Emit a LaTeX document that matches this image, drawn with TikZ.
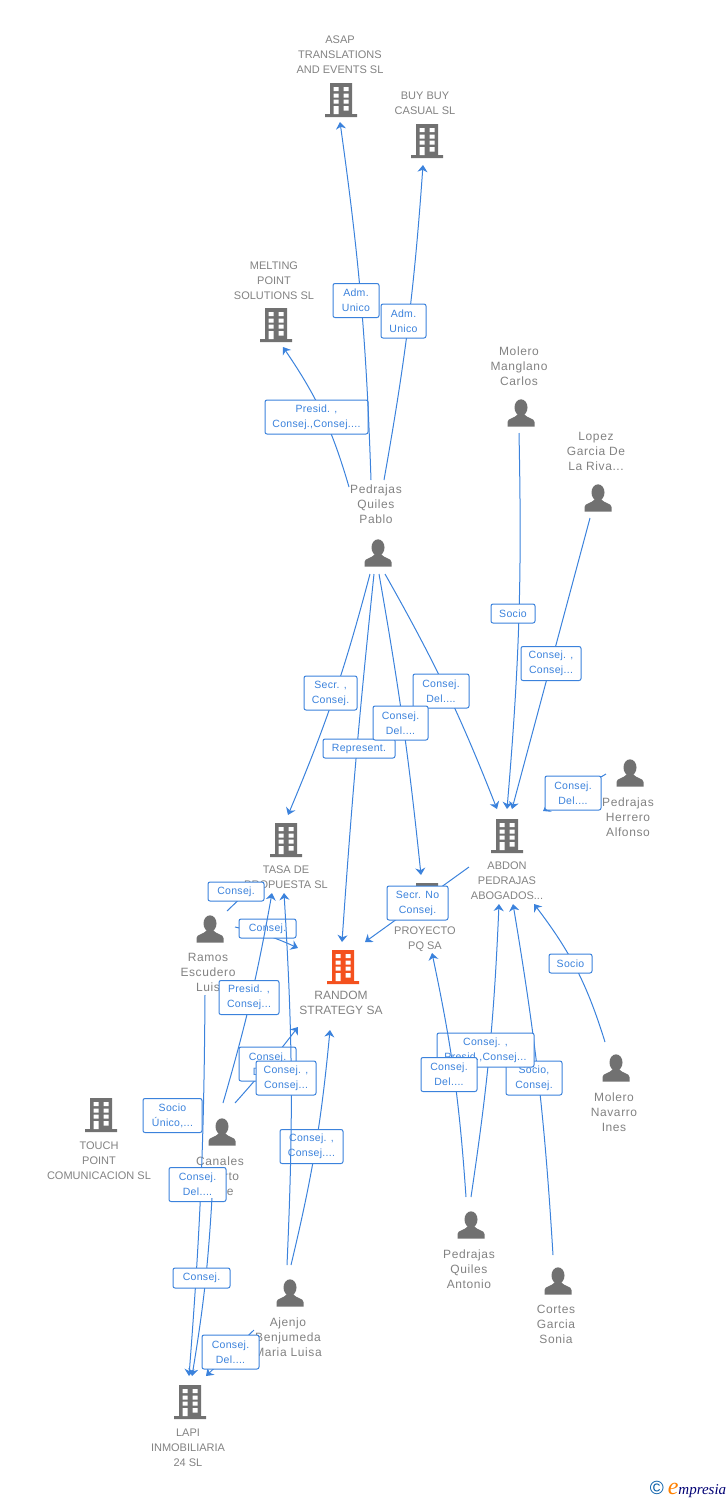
\documentclass[tikz,border=0pt]{standalone}
\usepackage{fontspec}
\setmainfont{Liberation Sans}
\newfontfamily\logofont{Liberation Serif}
\usetikzlibrary{arrows.meta}
\definecolor{linkblue}{HTML}{3B82DC}
\definecolor{iconcol}{HTML}{717171}
\definecolor{textcol}{HTML}{828282}
\definecolor{redfirm}{HTML}{F4511E}

\begin{document}
\begin{tikzpicture}[x=1pt,y=-1pt,
firm/.style={minimum width=34pt,minimum height=34pt,inner sep=0pt,path picture={
  \begin{scope}[shift={(path picture bounding box.center)}]
  \fill[#1] (-11,-17) rectangle (11,14) (-16,14) rectangle (16,17);
  \foreach \yy in {-13,-6.5,-0.5} {
    \fill[white] (-7.5,\yy) rectangle +(5,4.2) (2.5,\yy) rectangle +(5,4.2);
  }
  \fill[white] (-7.5,6) rectangle (-2.5,14) (2.5,6) rectangle (7.5,10.5);
  \end{scope}}},
firm/.default=iconcol,
person/.style={minimum width=28pt,minimum height=28pt,inner sep=0pt,path picture={
  \begin{scope}[shift={(path picture bounding box.center)}]
  \fill[iconcol] (0,-5.5) ellipse (6.5 and 8.2);
  \fill[iconcol] (-13.5,13.5) -- (-13.5,9) .. controls (-13.5,5) and (-6,5.5) .. (-3,1)
    -- (3,1) .. controls (6,5.5) and (13.5,5) .. (13.5,9) -- (13.5,13.5) -- cycle;
  \end{scope}}},
every label/.style={align=center,text=textcol,inner sep=0pt,xshift=-2pt,
  font=\fontsize{11}{15}\selectfont},
who/.style={label distance=10pt,font=\addfontfeature{LetterSpace=5}\fontsize{12}{15}\selectfont},
whotop/.style={who,label distance=13pt},
link/.style={draw=linkblue,line width=1pt,-{Stealth[length=7pt,width=10pt,inset=2.2pt]}},
tag/.style={draw=linkblue,line width=1pt,fill=white,rounded corners=2pt,align=center,inner sep=0pt,
  text=linkblue,font=\addfontfeature{LetterSpace=3}\fontsize{10.5}{15}\selectfont,minimum height=34pt}]
\useasboundingbox (0,0) rectangle (728,1500);

% companies
\node[firm] (asap) at (341,100) [label={[label distance=9pt,xshift=1pt]above:ASAP\\TRANSLATIONS\\AND EVENTS SL}] {};
\node[firm] (buybuy) at (427,141) [label={[label distance=9pt]above:BUY BUY\\CASUAL SL}] {};
\node[firm] (melting) at (276,325) [label={[label distance=8pt]above:MELTING\\POINT\\SOLUTIONS  SL}] {};
\node[firm] (abdon) at (507,836) [label={[label distance=8pt,xshift=2pt]below:ABDON\\PEDRAJAS\\ABOGADOS...}] {};
\node[firm] (tasa) at (286,840) [label={[label distance=8pt,xshift=2pt]below:TASA DE\\PROPUESTA SL}] {};
\node[firm] (proyecto) at (427,900) [label={[label distance=9pt]below:PROYECTO\\PQ SA}] {};
\node[firm=redfirm] (random) at (343,967) [label={[label distance=7pt,font=\fontsize{12}{15}\selectfont]below:RANDOM\\STRATEGY SA}] {};
\node[firm] (touch) at (101,1115) [label={[label distance=9pt]below:TOUCH\\POINT\\COMUNICACION SL}] {};
\node[firm] (lapi) at (190,1402) [label={[label distance=10pt]below:LAPI\\INMOBILIARIA\\24 SL}] {};

% people
\node[person] (pablo) at (378,553) [label={[whotop,label distance=15pt]above:Pedrajas\\Quiles\\Pablo}] {};
\node[person] (carlos) at (521,413) [label={[whotop]above:Molero\\Manglano\\Carlos}] {};
\node[person] (lopez) at (598,498) [label={[whotop]above:Lopez\\Garcia De\\La Riva...}] {};
\node[person] (alfonso) at (630,773) [label={[who]below:Pedrajas\\Herrero\\Alfonso}] {};
\node[person] (ramos) at (210,929) [label={[who]below:Ramos\\Escudero\\Luis}] {};
\node[person] (canales) at (222,1132) [label={[who]below:Canales\\Puerto\\Jose}] {};
\node[person] (ines) at (616,1068) [label={[who]below:Molero\\Navarro\\Ines}] {};
\node[person] (antonio) at (471,1225) [label={[who]below:Pedrajas\\Quiles\\Antonio}] {};
\node[person] (sonia) at (558,1281) [label={[who]below:Cortes\\Garcia\\Sonia}] {};
\node[person] (ajenjo) at (290,1293) [label={[who]below:Ajenjo\\Benjumeda\\Maria Luisa}] {};

% around Pablo
\draw[link] ([shift={(-29,-66)}]pablo.center) to[bend right=9] ([shift={(7,22)}]melting.center);
\node[tag,minimum width=103pt] (t1) at (316.5,417) {Presid. ,\\Consej.,Consej....};
\draw[link] ([shift={(-7,-73)}]pablo.center) to[bend right=3] ([shift={(-1,22)}]asap.center);
\node[tag,minimum width=46pt] (t2) at (356,300.5) {Adm.\\Unico};
\draw[link] ([shift={(6,-73)}]pablo.center) to[bend right=3] ([shift={(-4,24)}]buybuy.center);
\node[tag,minimum width=45pt] (t3) at (403.5,321) {Adm.\\Unico};
\draw[link] ([shift={(-8,21)}]pablo.center) to[bend left=4] ([shift={(2,-25)}]tasa.center);
\node[tag,minimum width=53pt] (t4) at (330.5,693) {Secr. ,\\Consej.};
\draw[link] ([shift={(-4,21)}]pablo.center) to[bend right=1] ([shift={(-1,-25)}]random.center);
\node[tag,minimum width=72pt,minimum height=19pt] (t5) at (359,748.5) {Represent.};
\draw[link] ([shift={(7,21)}]pablo.center) to[bend left=4] ([shift={(-10,-27)}]abdon.center);
\node[tag,minimum width=56pt] (t6) at (441,691) {Consej.\\Del....};
\draw[link] ([shift={(1,21)}]pablo.center) to[bend left=2] ([shift={(-6,-25)}]proyecto.center);
\node[tag,minimum width=55pt] (t7) at (400.5,723) {Consej.\\Del....};

% into Abdon
\draw[link] ([shift={(-2,20)}]carlos.center) to[bend left=3] ([shift={(0,-27)}]abdon.center);
\node[tag,minimum width=44pt,minimum height=19pt] (t8) at (513,613.5) {Socio};
\draw[link] ([shift={(-8,20)}]lopez.center) -- ([shift={(5,-27)}]abdon.center);
\node[tag,minimum width=60pt] (t9) at (551,663.5) {Consej. ,\\Consej...};
\draw[link] ([shift={(-24,1)}]alfonso.center) -- ([shift={(36,-25)}]abdon.center);
\node[tag,minimum width=56pt] (t10) at (573,793) {Consej.\\Del....};
\draw[link] ([shift={(-11,-26)}]ines.center) to[bend right=10] ([shift={(27,68)}]abdon.center);
\node[tag,minimum width=43pt,minimum height=19pt] (t11) at (570.5,963.5) {Socio};
\draw[link] ([shift={(-5,-26)}]sonia.center) to[bend right=3] ([shift={(6,68)}]abdon.center);
\node[tag,minimum width=56pt] (t12) at (534,1078) {Socio,\\Consej.};
\draw[link] ([shift={(0,-28)}]antonio.center) to[bend right=3] ([shift={(-8,68)}]abdon.center);
\node[tag,minimum width=97pt] (t13) at (485.5,1050) {Consej. ,\\Presid.,Consej...};
\draw[link] ([shift={(-5,-28)}]antonio.center) to[bend right=4] ([shift={(5,53)}]proyecto.center);
\node[tag,minimum width=56pt] (t14) at (449,1074.5) {Consej.\\Del....};
\draw[link] ([shift={(-38,31)}]abdon.center) -- ([shift={(22,-25)}]random.center);
\node[tag,minimum width=61pt] (t15) at (417.5,903) {Secr.  No\\Consej.};

% Ramos
\draw[link] ([shift={(17,-18)}]ramos.center) -- ([shift={(-36,49)}]tasa.center);
\node[tag,minimum width=56pt,minimum height=19pt] (t16) at (236,891.5) {Consej.};
\draw[link] ([shift={(25,-2)}]ramos.center) to[bend left=6] ([shift={(-45,-19)}]random.center);
\node[tag,minimum width=57pt,minimum height=19pt] (t17) at (267.5,928.5) {Consej.};
\draw[link] ([shift={(-5,66)}]ramos.center) to[bend left=2] ([shift={(-1,-26)}]lapi.center);
\node[tag,minimum width=57pt] (t18) at (197.5,1184.5) {Consej.\\Del....};

% Canales
\node[tag,minimum width=59pt] (t19) at (172.5,1115.5) {Socio\\Único,...};
\draw[link] ([shift={(1,-29)}]canales.center) to[bend right=3] ([shift={(-14,53)}]tasa.center);
\node[tag,minimum width=60pt] (t20) at (249,997.5) {Presid. ,\\Consej...};
\draw[link] ([shift={(13,-29)}]canales.center) to[bend right=2] ([shift={(-45,60)}]random.center);
\node[tag,minimum width=57pt] (t21) at (267.5,1064) {Consej.\\Del....};
\draw[link] ([shift={(-10,66)}]canales.center) to[bend left=3] ([shift={(2,-26)}]lapi.center);
\node[tag,minimum width=57pt,minimum height=20pt] (t22) at (201.5,1278) {Consej.};

% Ajenjo
\draw[link] ([shift={(1,-28)}]ajenjo.center) to[bend right=4] ([shift={(-13,63)}]random.center);
\node[tag,minimum width=63pt] (t23) at (311.5,1146.5) {Consej. ,\\Consej....};
\draw[link] ([shift={(-3,-28)}]ajenjo.center) to[bend right=3] ([shift={(-2,53)}]tasa.center);
\node[tag,minimum width=60pt] (t24) at (286,1078) {Consej. ,\\Consej...};
\draw[link] ([shift={(-36,37)}]ajenjo.center) -- ([shift={(16,-26)}]lapi.center);
\node[tag,minimum width=57pt] (t25) at (230.5,1352) {Consej.\\Del....};

\node (logo) at (688,1489) [inner sep=0pt] {\fontsize{19}{19}\selectfont\textcolor{teal!70!blue}{©}\hspace{4pt}{\logofont\itshape\fontsize{24}{15}\selectfont\textcolor{orange}{e}\fontsize{15}{15}\selectfont\textcolor{blue!45!black}{mpresia}}};
\end{tikzpicture}
\end{document}
